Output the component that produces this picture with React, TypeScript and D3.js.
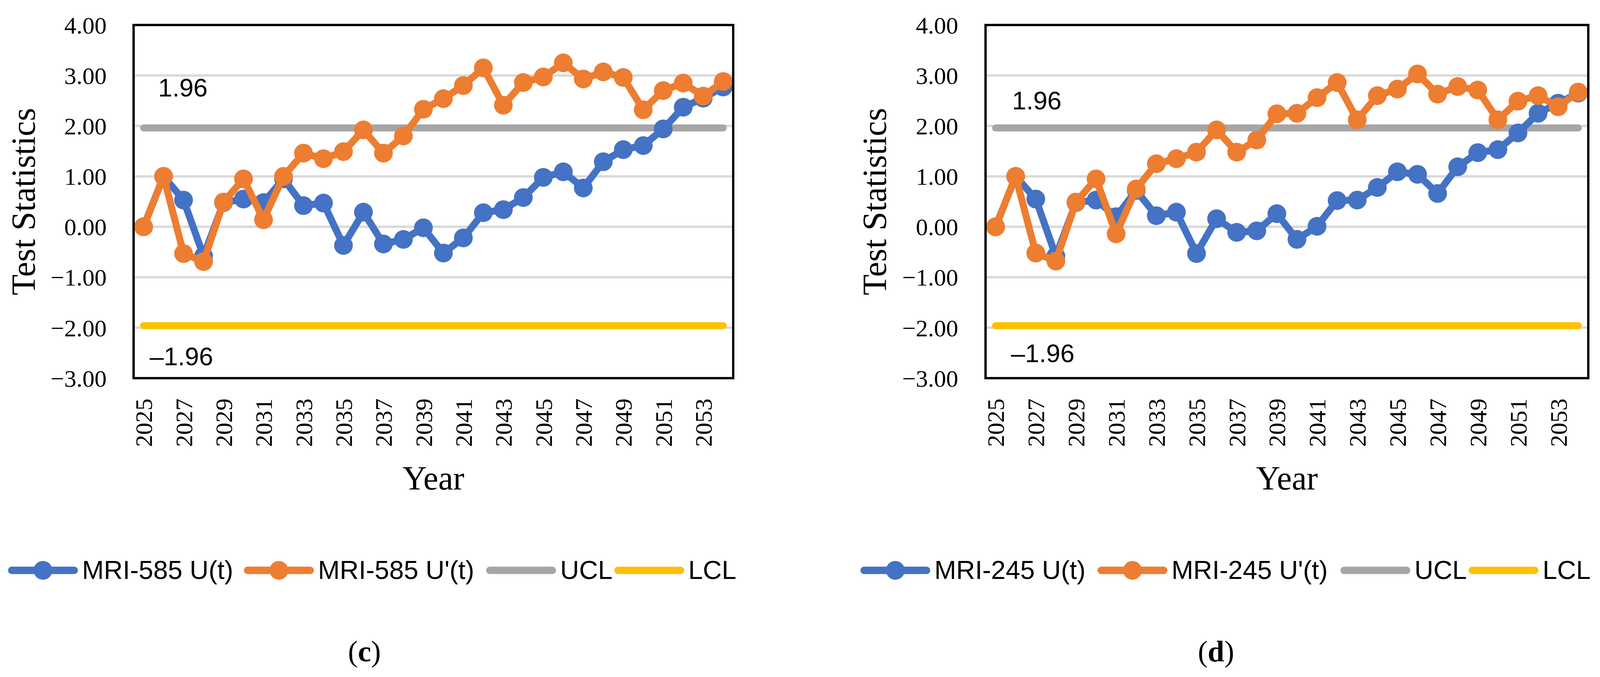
import React, { useEffect, useRef } from 'react';
import * as d3 from 'd3';

// categories
const years = [2025, 2026, 2027, 2028, 2029, 2030, 2031, 2032, 2033, 2034,
  2035, 2036, 2037, 2038, 2039, 2040, 2041, 2042, 2043, 2044,
  2045, 2046, 2047, 2048, 2049, 2050, 2051, 2052, 2053, 2054];
const tickYears = [2025, 2027, 2029, 2031, 2033, 2035, 2037, 2039, 2041, 2043, 2045, 2047, 2049, 2051, 2053];
const yTicks = [-3, -2, -1, 0, 1, 2, 3, 4];

// (c) MRI-585
const u585 = [0.00, 1.00, 0.53, -0.58, 0.48, 0.55, 0.48, 0.95, 0.42, 0.47,
  -0.37, 0.29, -0.34, -0.25, -0.02, -0.52, -0.22, 0.28, 0.34, 0.58,
  0.98, 1.09, 0.77, 1.29, 1.53, 1.61, 1.94, 2.37, 2.55, 2.77];
const up585 = [0.00, 1.00, -0.53, -0.69, 0.49, 0.95, 0.14, 1.00, 1.46, 1.35,
  1.49, 1.92, 1.46, 1.80, 2.33, 2.54, 2.80, 3.15, 2.41, 2.86,
  2.97, 3.25, 2.93, 3.07, 2.96, 2.32, 2.70, 2.85, 2.59, 2.88];

// (d) MRI-245
const u245 = [0.00, 1.00, 0.55, -0.58, 0.48, 0.53, 0.20, 0.72, 0.22, 0.29,
  -0.53, 0.16, -0.11, -0.08, 0.26, -0.25, 0.01, 0.52, 0.53, 0.78,
  1.09, 1.04, 0.66, 1.19, 1.47, 1.53, 1.86, 2.25, 2.45, 2.65];
const up245 = [0.00, 1.00, -0.52, -0.68, 0.49, 0.95, -0.14, 0.75, 1.25, 1.35,
  1.48, 1.92, 1.48, 1.72, 2.24, 2.25, 2.56, 2.86, 2.12, 2.60,
  2.73, 3.03, 2.63, 2.78, 2.71, 2.12, 2.49, 2.60, 2.38, 2.67];

const UCL = 1.96;
const LCL = -1.96;

const panels = [
  {
    left: 342, right: 1877, tickX: 273, titleX: 59,
    u: u585, up: up585,
    names: ['MRI-585 U(t)', "MRI-585 U'(t)", 'UCL', 'LCL'],
    legendX: [21, 625, 1245, 1573],
    upLabel: [405, 247], loLabel: [383, 935],
    caption: 'c', captionX: 933,
  },
  {
    left: 2523, right: 4066, tickX: 2453, titleX: 2238,
    u: u245, up: up245,
    names: ['MRI-245 U(t)', "MRI-245 U'(t)", 'UCL', 'LCL'],
    legendX: [2203, 2810, 3432, 3760],
    upLabel: [2591, 280], loLabel: [2588, 927],
    caption: 'd', captionX: 3113,
  },
];

const colors = ['#4472C4', '#ED7D31', '#A5A5A5', '#FFC000'];
const serif = '"Liberation Serif", "Times New Roman", serif';
const sans = '"Liberation Sans", Arial, sans-serif';

const W = 4115;
const H = 1733;
const top = 64;
const bottom = 968;

const App = () => {
  const ref = useRef<HTMLDivElement>(null);

  useEffect(() => {
    document.body.style.margin = '0';
    const svg = d3.create('svg')
      .attr('width', W)
      .attr('height', H)
      .attr('viewBox', [0, 0, W, H])
      .style('display', 'block')
      .style('background', '#fff');

    const y = d3.scaleLinear().domain([-3, 4]).range([bottom, top]);

    panels.forEach(p => {
      const x = d3.scalePoint<number>().domain(years).range([p.left, p.right]).padding(0.5);
      const g = svg.append('g');

      // gridlines
      g.append('g')
        .selectAll('line')
        .data(yTicks)
        .join('line')
        .attr('x1', p.left).attr('x2', p.right)
        .attr('y1', d => y(d)).attr('y2', d => y(d))
        .attr('stroke', '#D9D9D9')
        .attr('stroke-width', 6);

      // control limits
      [UCL, LCL].forEach((v, i) => {
        g.append('line')
          .attr('x1', x(years[0])!).attr('x2', x(years[years.length - 1])!)
          .attr('y1', y(v)).attr('y2', y(v))
          .attr('stroke', colors[2 + i])
          .attr('stroke-width', 18)
          .attr('stroke-linecap', 'round');
      });

      // series
      const line = d3.line<number>()
        .x((_, i) => x(years[i])!)
        .y(d => y(d));
      [p.u, p.up].forEach((vals, si) => {
        const s = g.append('g');
        s.append('path')
          .attr('d', line(vals))
          .attr('fill', 'none')
          .attr('stroke', colors[si])
          .attr('stroke-width', 18)
          .attr('stroke-linejoin', 'round');
        s.selectAll('circle')
          .data(vals)
          .join('circle')
          .attr('cx', (_, i) => x(years[i])!)
          .attr('cy', d => y(d))
          .attr('r', 24)
          .attr('fill', colors[si]);
      });

      // frame
      g.append('rect')
        .attr('x', p.left).attr('y', top)
        .attr('width', p.right - p.left).attr('height', bottom - top)
        .attr('fill', 'none')
        .attr('stroke', '#000')
        .attr('stroke-width', 6);

      // y tick labels
      g.append('g')
        .selectAll('text')
        .data(yTicks)
        .join('text')
        .attr('x', p.tickX)
        .attr('y', d => y(d))
        .attr('dy', '0.35em')
        .attr('text-anchor', 'end')
        .attr('font-family', serif)
        .attr('font-size', 62)
        .text(d => d3.format('.2f')(d));

      // x tick labels
      g.append('g')
        .selectAll('text')
        .data(tickYears)
        .join('text')
        .attr('transform', d => `translate(${x(d)},1020) rotate(-90)`)
        .attr('dy', '0.35em')
        .attr('text-anchor', 'end')
        .attr('font-family', serif)
        .attr('font-size', 62)
        .text(d => d);

      // axis titles
      g.append('text')
        .attr('transform', `translate(${p.titleX},${(top + bottom) / 2}) rotate(-90)`)
        .attr('dy', '0.35em')
        .attr('text-anchor', 'middle')
        .attr('font-family', serif)
        .attr('font-size', 87)
        .text('Test Statistics');
      g.append('text')
        .attr('x', (p.left + p.right) / 2)
        .attr('y', 1253)
        .attr('text-anchor', 'middle')
        .attr('font-family', serif)
        .attr('font-size', 86)
        .text('Year');

      // limit labels
      g.append('text')
        .attr('x', p.upLabel[0]).attr('y', p.upLabel[1])
        .attr('font-family', sans).attr('font-size', 65)
        .text('1.96');
      g.append('text')
        .attr('x', p.loLabel[0]).attr('y', p.loLabel[1])
        .attr('font-family', sans).attr('font-size', 65)
        .text('\u20131.96');

      // legend
      const lg = g.append('g');
      p.names.forEach((name, i) => {
        const x0 = p.legendX[i];
        lg.append('line')
          .attr('x1', x0 + 9).attr('x2', x0 + 169)
          .attr('y1', 1460).attr('y2', 1460)
          .attr('stroke', colors[i])
          .attr('stroke-width', 19)
          .attr('stroke-linecap', 'round');
        if (i < 2) {
          lg.append('circle')
            .attr('cx', x0 + 89).attr('cy', 1460)
            .attr('r', 24)
            .attr('fill', colors[i]);
        }
        lg.append('text')
          .attr('x', x0 + 189)
          .attr('y', 1482)
          .attr('font-family', sans)
          .attr('font-size', 67)
          .text(name);
      });

      // caption
      const cap = g.append('text')
        .attr('x', p.captionX)
        .attr('y', 1693)
        .attr('text-anchor', 'middle')
        .attr('font-family', serif)
        .attr('font-size', 76);
      cap.append('tspan').text('(');
      cap.append('tspan').attr('font-weight', 'bold').text(p.caption);
      cap.append('tspan').text(')');
    });

    if (ref.current) {
      ref.current.innerHTML = '';
      ref.current.appendChild(svg.node()!);
    }
  }, []);

  return <div ref={ref} style={{ width: W, height: H }}></div>;
};

export default App;
